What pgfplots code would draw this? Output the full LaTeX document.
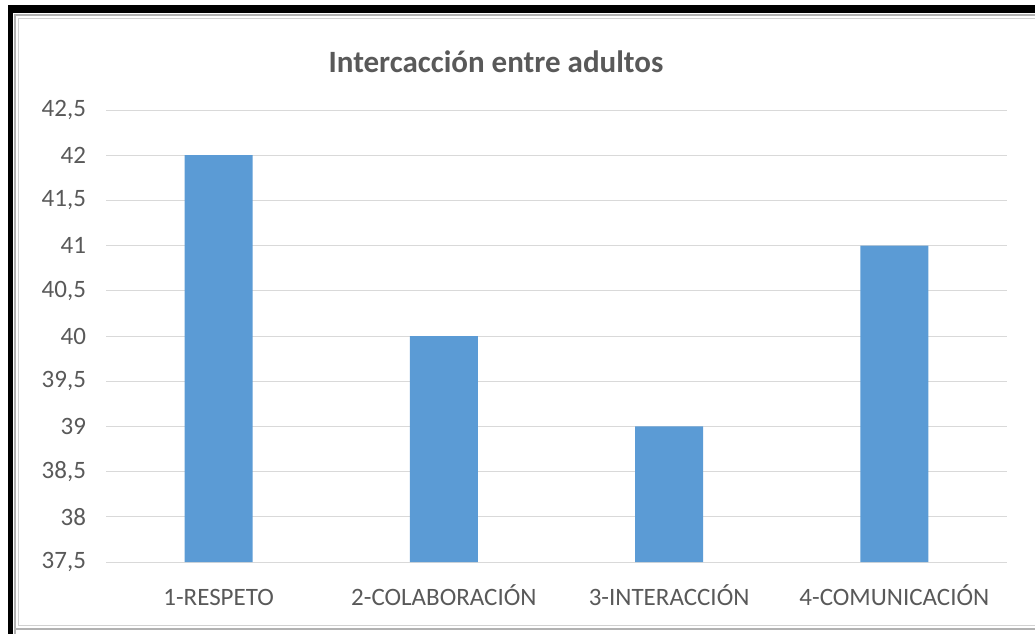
\documentclass[border=0pt]{standalone}
\usepackage{pgfplots}
\pgfplotsset{compat=1.18}
\usepackage{fontspec}
\setmainfont{Carlito}
\definecolor{txt}{HTML}{595959}
\definecolor{bar}{HTML}{5B9BD5}
\definecolor{grid}{HTML}{D9D9D9}
\begin{document}
\begin{tikzpicture}
\useasboundingbox (0,0) rectangle (517.5pt,317pt);
% frame
\begin{scope}[x=0.5pt,y=0.5pt]
\draw[line width=4pt,black] (8,625) -- (1035,625);
\draw[line width=2.5pt,black] (10.8,629) -- (10.8,0);
\draw[line width=1pt,color=black!30] (15,0) -- (15,619) -- (1035,619);
\draw[line width=1pt,color=black!30] (15,5) -- (1035,5);
\draw[line width=0.8pt,color=black!18] (18.5,8.5) -- (18.5,615.5) -- (1035,615.5);
\draw[line width=0.8pt,color=black!18] (18.5,8.5) -- (1035,8.5);
\node[anchor=base, inner sep=0pt, font=\bfseries\fontsize{15.5}{18}\selectfont, text=txt] at (496,562) {Intercacción entre adultos};
\end{scope}
\begin{axis}[
  at={(53pt,36pt)}, anchor=south west,
  width=450.5pt, height=226pt, scale only axis,
  ymin=37.5, ymax=42.5, ytick={37.5,38,...,42.5},
  xmin=-0.5, xmax=3.5, xtick=data,
  xticklabels={1-RESPETO,2-COLABORACIÓN,3-INTERACCIÓN,4-COMUNICACIÓN},
  ymajorgrids, grid style={color=grid, line width=0.5pt},
  axis line style={draw=none},
  major tick length=0pt,
  tick label style={font=\fontsize{12.5}{15}\selectfont, text=txt},
  yticklabel style={xshift=-6.5pt},
  xticklabel style={anchor=base, yshift=-21.5pt},
  /pgf/number format/.cd, use comma, fixed, assume math mode=true,
]
\addplot[ybar, bar width=34pt, fill=bar, draw=none] coordinates {(0,42) (1,40) (2,39) (3,41)};
\end{axis}
\end{tikzpicture}
\end{document}
